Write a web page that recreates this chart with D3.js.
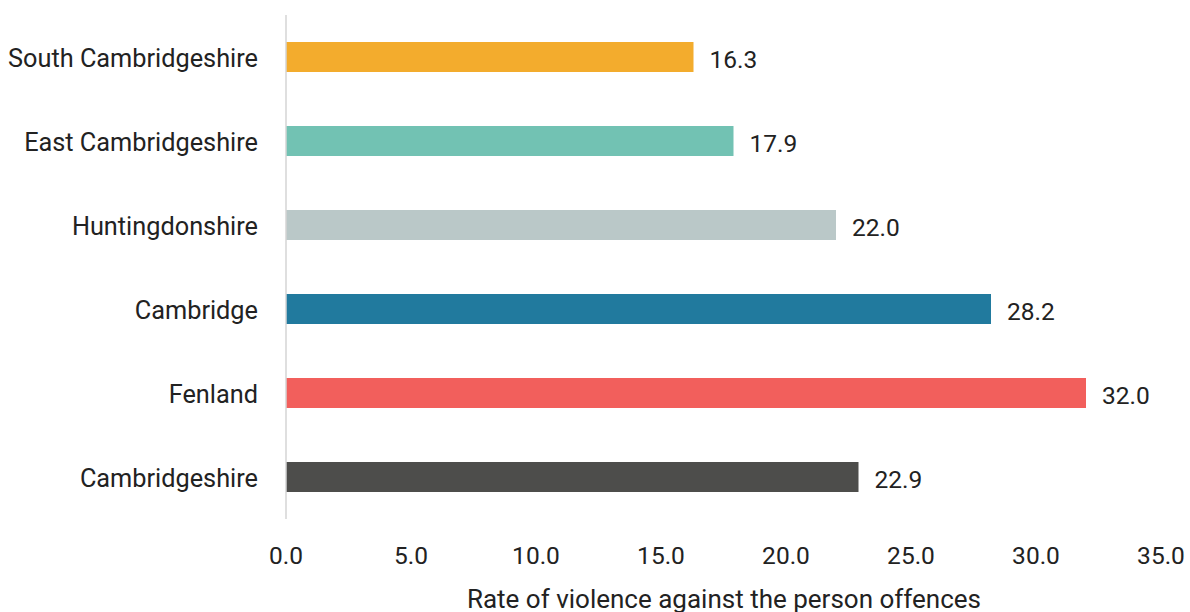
<!DOCTYPE html>
<html><head><meta charset="utf-8">
<script src="https://cdn.jsdelivr.net/npm/d3@7"></script>
<style>body{margin:0;background:#fff}svg{display:block}</style>
</head><body><svg id="c" width="1190" height="612"></svg>
<script>
const categories = ["South Cambridgeshire","East Cambridgeshire","Huntingdonshire","Cambridge","Fenland","Cambridgeshire"];
const values = [16.3, 17.9, 22.0, 28.2, 32.0, 22.9];
const colors = ["#F3AC2D","#72C2B3","#BAC8C8","#217A9E","#F25F5C","#4D4D4B"];
const xTicks = [0,5,10,15,20,25,30,35];
const xTitle = "Rate of violence against the person offences";

const svg = d3.select("#c");
const font = "Roboto, sans-serif";
const x = d3.scaleLinear().domain([0,35]).range([286,1161]);
const y = d3.scaleBand().domain(categories).range([15,519]).paddingInner(0.643).paddingOuter(0.3215);

svg.selectAll("rect.bar").data(categories).join("rect")
  .attr("x", x(0)).attr("y", d=>y(d))
  .attr("width", (d,i)=>x(values[i])-x(0)).attr("height", y.bandwidth())
  .attr("fill", (d,i)=>colors[i]);

svg.append("line").attr("x1",286).attr("x2",286).attr("y1",15).attr("y2",519)
  .attr("stroke","#d4d4d4").attr("stroke-width",1.5);

svg.selectAll("text.val").data(categories).join("text")
  .attr("x",(d,i)=>x(values[i])+16).attr("y",d=>y(d)+y.bandwidth()/2+2)
  .attr("dy","0.36em").attr("font-family",font).attr("font-size",24.5).attr("fill","#222")
  .text((d,i)=>values[i].toFixed(1));

svg.selectAll("text.cat").data(categories).join("text")
  .attr("x",258).attr("y",d=>y(d)+y.bandwidth()/2+1)
  .attr("dy","0.36em").attr("text-anchor","end").attr("font-family",font).attr("font-size",25.3).attr("fill","#222")
  .text(d=>d);

svg.selectAll("text.tick").data(xTicks).join("text")
  .attr("x",d=>x(d)).attr("y",555).attr("dy","0.36em").attr("text-anchor","middle")
  .attr("font-family",font).attr("font-size",24.5).attr("fill","#222")
  .text(d=>d.toFixed(1));

svg.append("text").attr("x",724).attr("y",599).attr("dy","0.36em").attr("text-anchor","middle")
  .attr("font-family",font).attr("font-size",26).attr("fill","#222").text(xTitle);
</script></body></html>
